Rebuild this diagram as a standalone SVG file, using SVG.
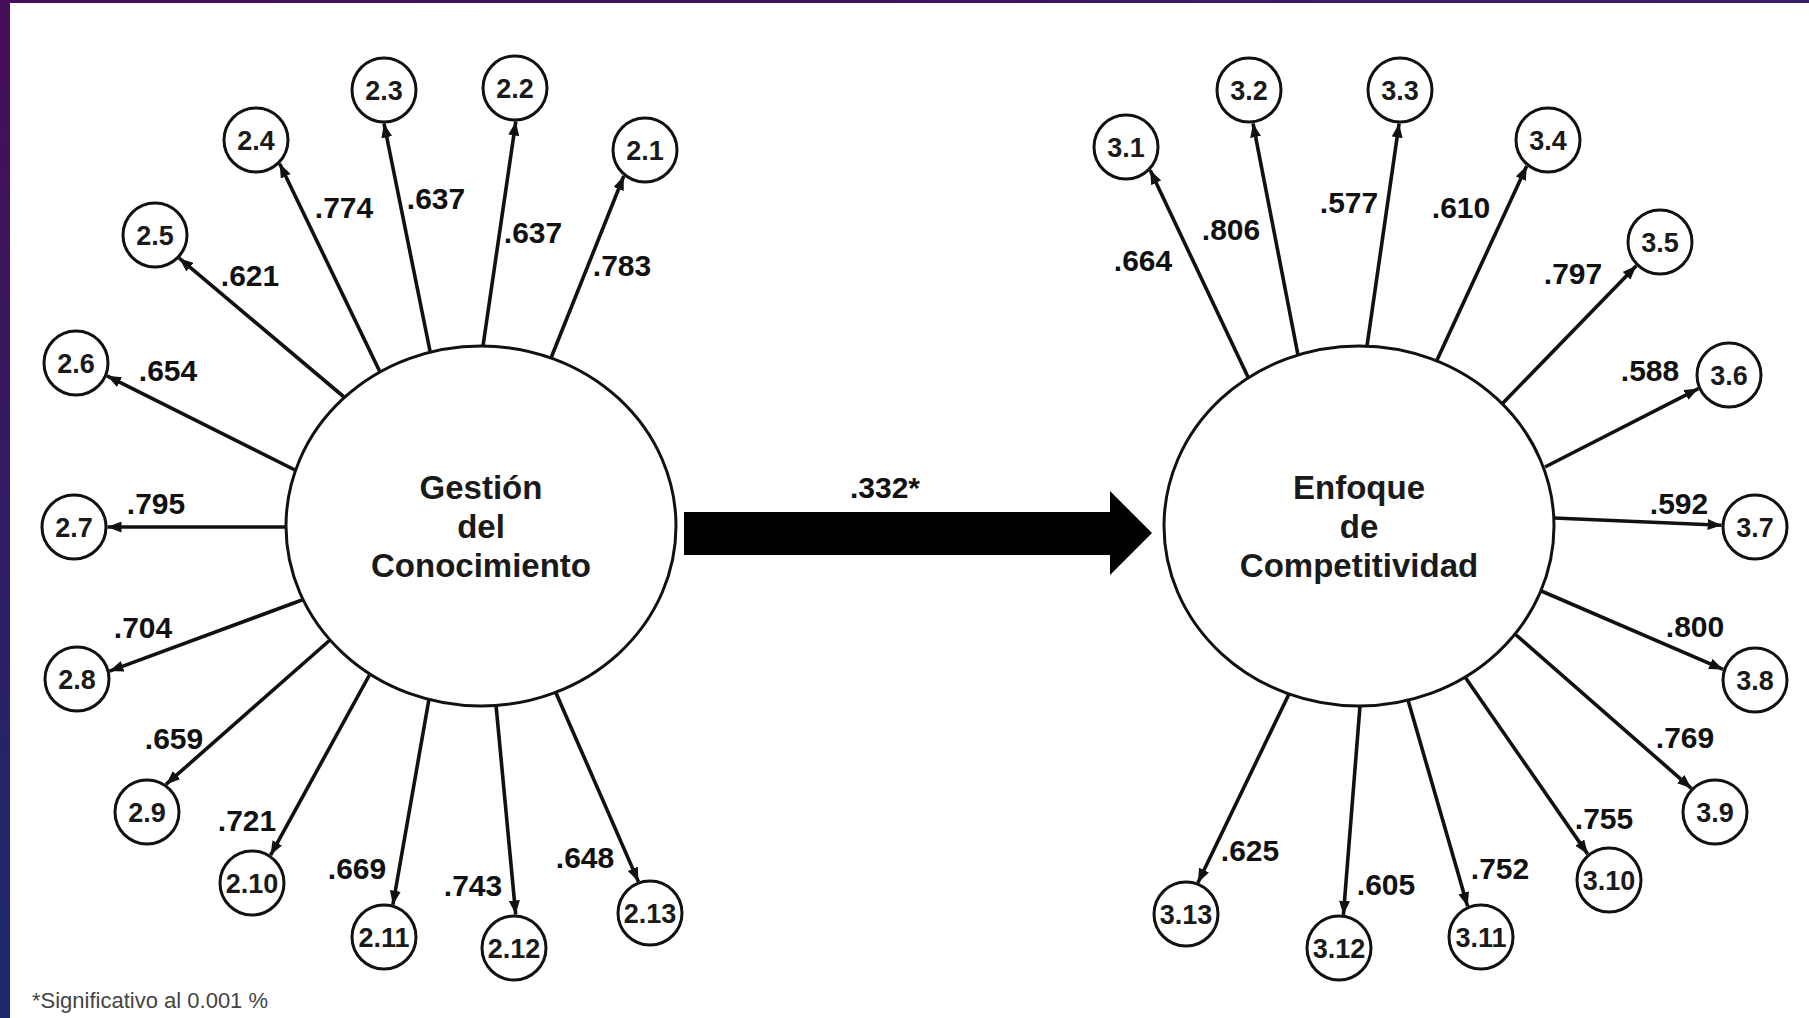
<svg xmlns="http://www.w3.org/2000/svg" width="1809" height="1018" viewBox="0 0 1809 1018">
<style>
.big{fill:#fff;stroke:#111;stroke-width:3}
.sm{fill:#fff;stroke:#111;stroke-width:3}
.bt{font-family:"Liberation Sans",Arial,sans-serif;font-weight:bold;font-size:33px;fill:#1a1a1a;text-anchor:middle}
.st{font-family:"Liberation Sans",Arial,sans-serif;font-weight:bold;font-size:27px;fill:#1a1a1a;text-anchor:middle}
.lb{font-family:"Liberation Sans",Arial,sans-serif;font-weight:bold;font-size:30px;fill:#111;text-anchor:middle}
.c{stroke:#111;stroke-width:3.6;fill:none;marker-end:url(#ah)}
.fn{font-family:"Liberation Sans",Arial,sans-serif;font-size:22px;fill:#444}
</style>
<defs>
<marker id="ah" markerUnits="userSpaceOnUse" viewBox="0 0 14 11" markerWidth="14" markerHeight="11" refX="14" refY="5.5" orient="auto">
<path d="M0,0 L14,5.5 L0,11 z" fill="#111"/>
</marker>
<linearGradient id="gl" x1="0" y1="0" x2="0" y2="1">
<stop offset="0" stop-color="#470d58"/>
<stop offset="1" stop-color="#1c2b6d"/>
</linearGradient>
<linearGradient id="gt" x1="0" y1="0" x2="1" y2="0">
<stop offset="0" stop-color="#470d58"/>
<stop offset="1" stop-color="#3a1c6c"/>
</linearGradient>
</defs>
<rect x="0" y="0" width="1809" height="1018" fill="#fff"/>
<rect x="0" y="0" width="1809" height="3" fill="url(#gt)"/>
<rect x="0" y="0" width="10" height="1018" fill="url(#gl)"/>

<g id="connectors">
<line class="c" x1="551" y1="358" x2="623.8" y2="176"/>
<line class="c" x1="483" y1="346" x2="515.8" y2="121.5"/>
<line class="c" x1="430" y1="351" x2="384" y2="123.5"/>
<line class="c" x1="380" y1="372" x2="279.7" y2="163.7"/>
<line class="c" x1="344" y1="397" x2="179.2" y2="258.2"/>
<line class="c" x1="295" y1="470" x2="107" y2="375.8"/>
<line class="c" x1="286" y1="527" x2="107.5" y2="527"/>
<line class="c" x1="302" y1="600" x2="109.5" y2="671.1"/>
<line class="c" x1="330" y1="640" x2="166" y2="784.4"/>
<line class="c" x1="370" y1="674" x2="270.6" y2="855.1"/>
<line class="c" x1="429" y1="699" x2="392.9" y2="904.7"/>
<line class="c" x1="496" y1="705" x2="515.7" y2="914.5"/>
<line class="c" x1="556" y1="693" x2="638.4" y2="881.6"/>

<line class="c" x1="1248" y1="377" x2="1150.2" y2="170.2"/>
<line class="c" x1="1298" y1="355" x2="1253" y2="123.3"/>
<line class="c" x1="1367" y1="346" x2="1399.1" y2="123.5"/>
<line class="c" x1="1437" y1="360" x2="1526.7" y2="165.9"/>
<line class="c" x1="1502" y1="404" x2="1636.3" y2="265.7"/>
<line class="c" x1="1545" y1="467" x2="1698.4" y2="388.6"/>
<line class="c" x1="1554" y1="518" x2="1721.6" y2="525.2"/>
<line class="c" x1="1539" y1="590" x2="1723.2" y2="669.4"/>
<line class="c" x1="1515" y1="634" x2="1691.3" y2="788.3"/>
<line class="c" x1="1465" y1="677" x2="1587.7" y2="854.1"/>
<line class="c" x1="1408" y1="700" x2="1467.6" y2="906.3"/>
<line class="c" x1="1360" y1="706" x2="1343.4" y2="914.8"/>
<line class="c" x1="1289" y1="694" x2="1197.9" y2="882.7"/>

<polygon points="684,512 1110,512 1110,491 1152,533 1110,575 1110,555 684,555" fill="#000"/>
<text class="lb" x="885" y="498">.332*</text>

<text class="lb" x="622" y="276">.783</text>
<text class="lb" x="533" y="243">.637</text>
<text class="lb" x="436" y="209">.637</text>
<text class="lb" x="344" y="218">.774</text>
<text class="lb" x="250" y="286">.621</text>
<text class="lb" x="168" y="381">.654</text>
<text class="lb" x="156" y="514">.795</text>
<text class="lb" x="143" y="638">.704</text>
<text class="lb" x="174" y="749">.659</text>
<text class="lb" x="247" y="831">.721</text>
<text class="lb" x="357" y="879">.669</text>
<text class="lb" x="473" y="896">.743</text>
<text class="lb" x="585" y="868">.648</text>

<text class="lb" x="1143" y="271">.664</text>
<text class="lb" x="1231" y="240">.806</text>
<text class="lb" x="1349" y="213">.577</text>
<text class="lb" x="1461" y="218">.610</text>
<text class="lb" x="1573" y="284">.797</text>
<text class="lb" x="1650" y="381">.588</text>
<text class="lb" x="1679" y="514">.592</text>
<text class="lb" x="1695" y="637">.800</text>
<text class="lb" x="1685" y="748">.769</text>
<text class="lb" x="1604" y="829">.755</text>
<text class="lb" x="1500" y="879">.752</text>
<text class="lb" x="1386" y="895">.605</text>
<text class="lb" x="1250" y="861">.625</text>
</g>

<g id="gestion">
<ellipse class="big" cx="481" cy="526" rx="195" ry="180"/>
<text class="bt" x="481" y="499">Gestión</text>
<text class="bt" x="481" y="538">del</text>
<text class="bt" x="481" y="577">Conocimiento</text>
</g>
<g id="enfoque">
<ellipse class="big" cx="1359" cy="526" rx="195" ry="180"/>
<text class="bt" x="1359" y="499">Enfoque</text>
<text class="bt" x="1359" y="538">de</text>
<text class="bt" x="1359" y="577">Competitividad</text>
</g>

<g id="n2_1"><circle class="sm" cx="645" cy="150" r="32"/><text class="st" x="645" y="160">2.1</text></g>
<g id="n2_2"><circle class="sm" cx="515" cy="88" r="32"/><text class="st" x="515" y="98">2.2</text></g>
<g id="n2_3"><circle class="sm" cx="384" cy="90" r="32"/><text class="st" x="384" y="100">2.3</text></g>
<g id="n2_4"><circle class="sm" cx="256" cy="140" r="32"/><text class="st" x="256" y="150">2.4</text></g>
<g id="n2_5"><circle class="sm" cx="155" cy="235" r="32"/><text class="st" x="155" y="245">2.5</text></g>
<g id="n2_6"><circle class="sm" cx="76" cy="363" r="32"/><text class="st" x="76" y="373">2.6</text></g>
<g id="n2_7"><circle class="sm" cx="74" cy="527" r="32"/><text class="st" x="74" y="537">2.7</text></g>
<g id="n2_8"><circle class="sm" cx="77" cy="679" r="32"/><text class="st" x="77" y="689">2.8</text></g>
<g id="n2_9"><circle class="sm" cx="147" cy="812" r="32"/><text class="st" x="147" y="822">2.9</text></g>
<g id="n2_10"><circle class="sm" cx="252" cy="883" r="32"/><text class="st" x="252" y="893">2.10</text></g>
<g id="n2_11"><circle class="sm" cx="384" cy="937" r="32"/><text class="st" x="384" y="947">2.11</text></g>
<g id="n2_12"><circle class="sm" cx="514" cy="948" r="32"/><text class="st" x="514" y="958">2.12</text></g>
<g id="n2_13"><circle class="sm" cx="650" cy="913" r="32"/><text class="st" x="650" y="923">2.13</text></g>

<g id="n3_1"><circle class="sm" cx="1126" cy="147" r="32"/><text class="st" x="1126" y="157">3.1</text></g>
<g id="n3_2"><circle class="sm" cx="1249" cy="90" r="32"/><text class="st" x="1249" y="100">3.2</text></g>
<g id="n3_3"><circle class="sm" cx="1400" cy="90" r="32"/><text class="st" x="1400" y="100">3.3</text></g>
<g id="n3_4"><circle class="sm" cx="1548" cy="140" r="32"/><text class="st" x="1548" y="150">3.4</text></g>
<g id="n3_5"><circle class="sm" cx="1660" cy="242" r="32"/><text class="st" x="1660" y="252">3.5</text></g>
<g id="n3_6"><circle class="sm" cx="1729" cy="375" r="32"/><text class="st" x="1729" y="385">3.6</text></g>
<g id="n3_7"><circle class="sm" cx="1755" cy="527" r="32"/><text class="st" x="1755" y="537">3.7</text></g>
<g id="n3_8"><circle class="sm" cx="1755" cy="680" r="32"/><text class="st" x="1755" y="690">3.8</text></g>
<g id="n3_9"><circle class="sm" cx="1715" cy="812" r="32"/><text class="st" x="1715" y="822">3.9</text></g>
<g id="n3_10"><circle class="sm" cx="1609" cy="880" r="32"/><text class="st" x="1609" y="890">3.10</text></g>
<g id="n3_11"><circle class="sm" cx="1481" cy="937" r="32"/><text class="st" x="1481" y="947">3.11</text></g>
<g id="n3_12"><circle class="sm" cx="1339" cy="948" r="32"/><text class="st" x="1339" y="958">3.12</text></g>
<g id="n3_13"><circle class="sm" cx="1186" cy="914" r="32"/><text class="st" x="1186" y="924">3.13</text></g>

<text class="fn" x="32" y="1008">*Significativo al 0.001 %</text>
</svg>
